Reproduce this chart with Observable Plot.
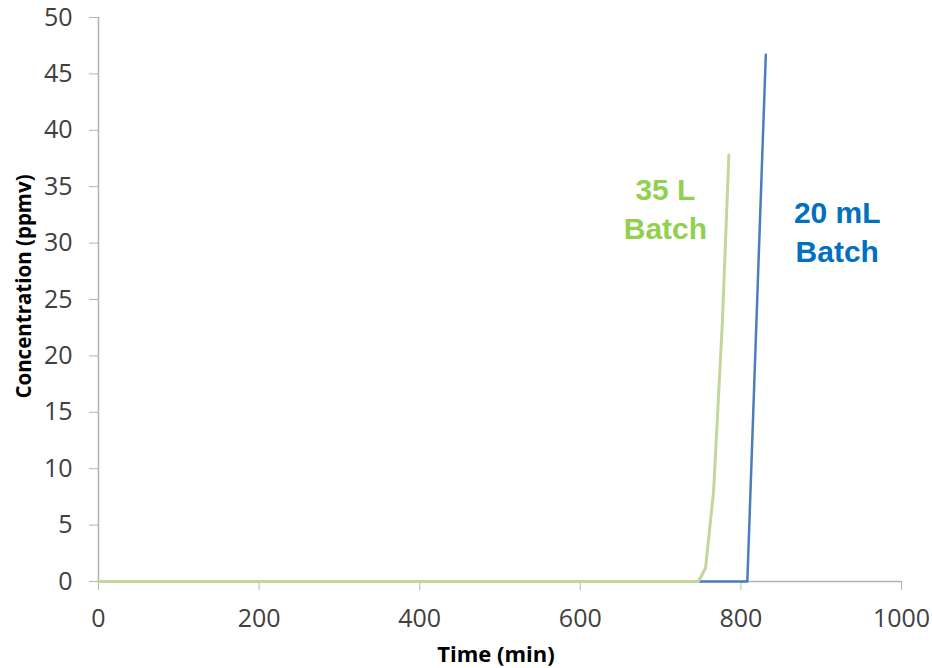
<!DOCTYPE html>
<html>
<head>
<meta charset="utf-8">
<script src="https://cdn.jsdelivr.net/npm/d3@7"></script>
<script src="https://cdn.jsdelivr.net/npm/@observablehq/plot@0.6"></script>
<style>
  html, body { margin: 0; padding: 0; background: #fff; }
  #chart svg { display: block; }
</style>
</head>
<body>
<div id="chart"></div>
<script>
// Data
const batch20mL_time = [0, 808, 831];
const batch20mL_conc = [0, 0, 46.7];
const batch35L_time = [0, 747, 756, 766, 777, 785];
const batch35L_conc = [0, 0, 1.2, 8.0, 23.1, 37.8];

const xTicks = [0, 200, 400, 600, 800, 1000];
const yTicks = [0, 5, 10, 15, 20, 25, 30, 35, 40, 45, 50];

const seriesLabels = ["35 L\nBatch", "20 mL\nBatch"];
const labelTime = [706, 920];
const labelConc = [33.2, 31.2];

const xTitle = "Time (min)";
const yTitle = "Concentration (ppmv)";

const rows20 = batch20mL_time.map((t, i) => ({t, c: batch20mL_conc[i]}));
const rows35 = batch35L_time.map((t, i) => ({t, c: batch35L_conc[i]}));
const labels = seriesLabels.map((s, i) => ({s, t: labelTime[i], c: labelConc[i]}));

const font = "'Open Sans', 'Noto Sans', sans-serif";
const axisGray = "#b3b3b3";

const chart = Plot.plot({
  width: 932,
  height: 668,
  marginLeft: 98,
  marginRight: 31,
  marginTop: 17,
  marginBottom: 87,
  style: {fontFamily: font, background: "#fff"},
  x: {domain: [0, 1000]},
  y: {domain: [0, 50]},
  marks: [
    Plot.axisY({ticks: yTicks, tickSize: 9, tickPadding: 17, fontSize: 25, stroke: axisGray, fill: "#404040", label: null, tickFormat: d => String(d)}),
    Plot.axisX({ticks: xTicks, tickSize: 9, tickPadding: 19, fontSize: 25, stroke: axisGray, fill: "#404040", label: null, tickFormat: d => String(d)}),
    Plot.ruleX([0], {stroke: axisGray, strokeWidth: 1.5}),
    Plot.ruleY([0], {stroke: axisGray, strokeWidth: 1.5}),
    Plot.line(rows20, {x: "t", y: "c", stroke: "#4a7ebb", strokeWidth: 2.5}),
    Plot.line(rows35, {x: "t", y: "c", stroke: "#c3d69b", strokeWidth: 3}),
    Plot.text(labels, {x: "t", y: "c", text: "s", fontSize: 30, fontWeight: "bold",
      fontFamily: "'Liberation Sans', Arial, sans-serif", lineHeight: 1.3,
      fill: (d, i) => i === 0 ? "#92d050" : "#0070c0"}),
    Plot.text([xTitle], {frameAnchor: "bottom", dx: -4, dy: 80, fontSize: 22, fontWeight: "bold", fill: "#000"}),
    Plot.text([yTitle], {frameAnchor: "left", textAnchor: "middle", dx: -74, dy: -13, rotate: -90, fontSize: 20.5, fontWeight: "bold", fill: "#000"})
  ]
});
document.getElementById("chart").appendChild(chart);
</script>
</body>
</html>
